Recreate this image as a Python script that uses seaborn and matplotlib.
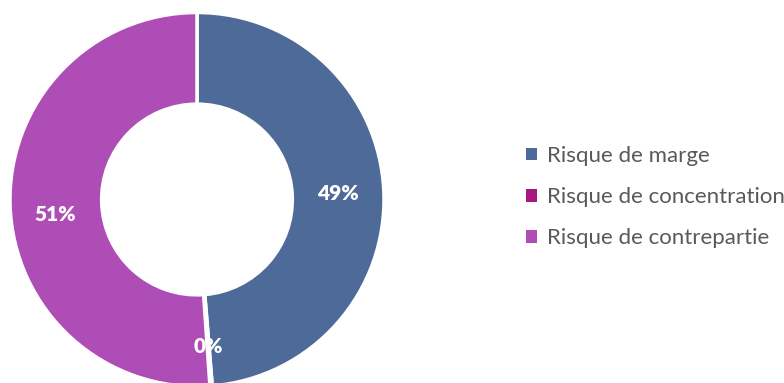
import matplotlib
matplotlib.use("Agg")
import matplotlib.pyplot as plt
from matplotlib.patches import Patch
import numpy as np
import seaborn as sns

categories = ["Risque de marge", "Risque de concentration", "Risque de contrepartie"]
values = [48.7, 0.2, 51.1]
labels = ["49%", "0%", "51%"]
colors = ["#4D6A98", "#A8177F", "#AE4DB5"]

sns.set_theme(style="white")
plt.rcParams["font.family"] = ["Lato", "DejaVu Sans"]

fig = plt.figure(figsize=(7.84, 3.83), dpi=100)
ax = fig.add_axes([10 / 784, -3.5 / 383, 374 / 784, 374 / 383])

wedges, _ = ax.pie(
    values,
    colors=colors,
    startangle=90,
    counterclock=False,
    radius=1.0,
    wedgeprops=dict(width=0.49, edgecolor="white", linewidth=2.5),
)

# percentage labels placed in the ring: (distance, angular shift in degrees)
label_pos = [(0.755, 0.0), (0.79, 0.0), (0.765, 4.0)]
for w, lab, (r, shift) in zip(wedges, labels, label_pos):
    mid = np.deg2rad((w.theta1 + w.theta2) / 2 + shift)
    ax.text(r * np.cos(mid), r * np.sin(mid), lab, ha="center", va="center",
            color="white", fontsize=15, fontweight="heavy")

ax.set_xlim(-1, 1)
ax.set_ylim(-1, 1)
ax.set_aspect("equal")
ax.axis("off")

handles = [Patch(facecolor=c, edgecolor="none") for c in colors]
fig.legend(handles, categories, loc="upper left", bbox_to_anchor=(506 / 784, 1 - 126 / 383),
           frameon=False, fontsize=16, labelcolor="#595959", handlelength=0.5,
           handleheight=0.5, handletextpad=0.45, labelspacing=0.95)

fig.savefig("out.png", dpi=100, facecolor="white")
